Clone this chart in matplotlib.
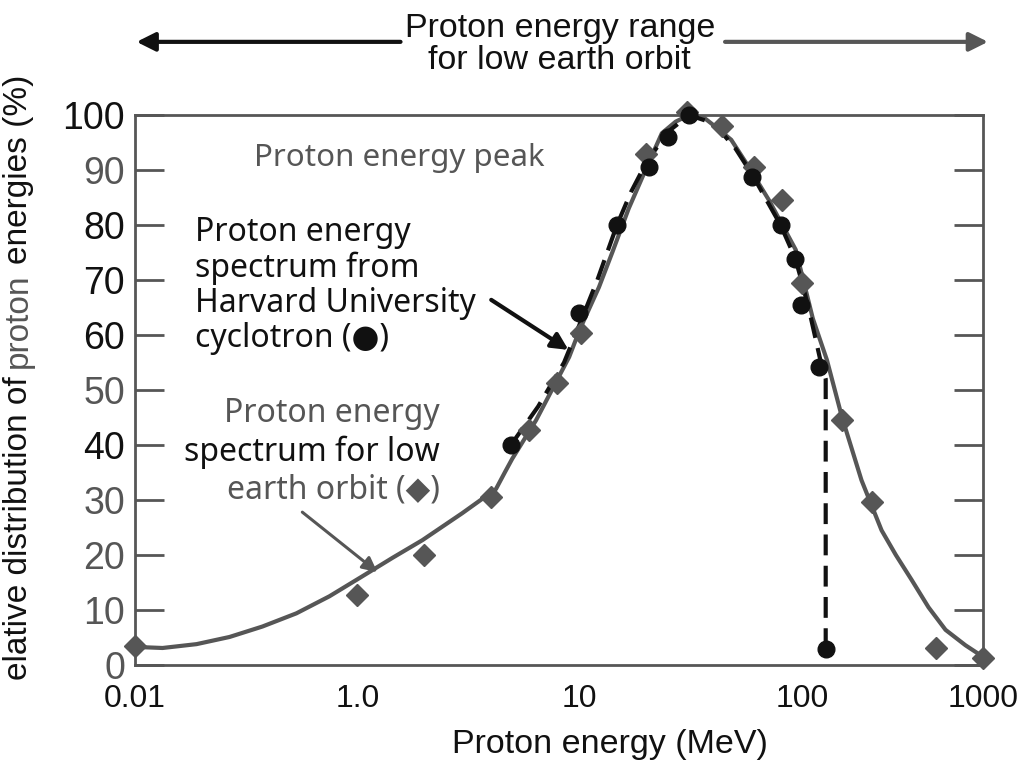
import numpy as np
import matplotlib.pyplot as plt
from matplotlib.ticker import FixedLocator, NullFormatter

# ---- data (energy in MeV, relative %) ----
# low earth orbit spectrum: solid curve + diamonds
leo_curve_e = [0.01, 0.0177, 0.0358, 0.0708, 0.14, 0.283, 0.561, 1.04, 1.44, 1.96, 2.96, 4.2,
               4.6, 4.97, 6.36, 8.96, 10, 12.2, 14, 16.6, 20, 23.4, 27, 31, 36,
               41, 48, 56, 71, 93.6, 114.6, 137, 166, 213, 275, 330, 403, 500, 621, 800, 1000]
leo_curve_y = [3.3, 3.1, 3.8, 5.1, 7.0, 9.4, 12.5, 16, 19.5, 22.7, 27.6, 32,
               35, 37.5, 44.5, 56, 61, 68.7, 75, 83, 90.5, 96.7, 98.8, 100, 99.6,
               97.8, 95.5, 91.3, 84.5, 75.5, 63, 55.5, 45.1, 33.6, 24.5, 20, 15.5, 10.5, 6.4, 3.6, 1.5]
leo_pts_e = [0.01, 1.0, 2.0, 4.0, 5.9, 7.9, 10.1, 19.8, 30.3, 43.5, 60.6, 81, 99.6, 166, 242, 547, 1000]
leo_pts_y = [3.5, 12.7, 20, 30.5, 42.7, 51.3, 60.4, 93, 100.5, 98, 90.5, 84.5, 69.5, 44.5, 29.6, 3.1, 1.3]

# Harvard cyclotron spectrum: dashed curve + circles
harvard_curve_e = [4.9, 6.5, 8.5, 10, 12, 14.7, 17, 20, 25, 31, 40, 50, 60, 80, 93, 100, 112, 125, 135, 135]
harvard_curve_y = [40, 47, 55, 62, 70, 80, 86, 91.5, 97, 100, 98.5, 94, 89, 80, 74, 69.5, 63, 56, 52, 3]
harvard_pts_e = [4.9, 9.9, 14.7, 20.5, 25, 31, 59.4, 80, 92.6, 98.6, 124, 135]
harvard_pts_y = [40, 64, 80, 90.5, 96, 100, 88.7, 80, 73.8, 65.5, 54.2, 3]

xticks = [0.01, 1.0, 10, 100, 1000]
xticklabels = ['0.01', '1.0', '10', '100', '1000']
yticks = [0, 10, 20, 30, 40, 50, 60, 70, 80, 90, 100]

GRAY = '#565656'
BLACK = '#111111'
sans = ['Liberation Sans', 'DejaVu Sans']
ann = ['Noto Sans', 'DejaVu Sans']


# the printed axis is not a clean log axis: first segment squeezes two
# decades into one, last decade is shortened
def fwd(e):
    l = np.log10(np.clip(np.asarray(e, float), 1e-6, None))
    return np.where(l < 0, l / 2, np.where(l <= 2, l, 2 + (l - 2) * 0.813))


def inv(u):
    u = np.asarray(u, float)
    return np.where(u < 0, 10 ** (2 * u), np.where(u <= 2, 10 ** u, 10 ** (2 + (u - 2) / 0.813)))


fig = plt.figure(figsize=(10.27, 7.61), dpi=100)
ax = fig.add_axes([0.1314, 0.1261, 0.8257, 0.7227])
ax.set_xscale('function', functions=(fwd, inv))
ax.set_xlim(0.01, 1000)
ax.set_ylim(0, 100)

ax.plot(leo_curve_e, leo_curve_y, color=GRAY, lw=3, solid_capstyle='round', zorder=3)
ax.plot(harvard_curve_e, harvard_curve_y, color=BLACK, lw=3, ls=(0, (5, 2.5)), zorder=4)
ax.plot(leo_pts_e, leo_pts_y, 'D', color=GRAY, ms=11, clip_on=False, zorder=5)
ax.plot(harvard_pts_e, harvard_pts_y, 'o', color=BLACK, ms=12, clip_on=False, zorder=6)

# axes frame and ticks
for s in ax.spines.values():
    s.set_color(GRAY)
    s.set_linewidth(2)
ax.xaxis.set_major_locator(FixedLocator(xticks))
ax.set_xticklabels(xticklabels, fontsize=23, family=sans, color=BLACK)
ax.xaxis.set_minor_locator(FixedLocator([1, 10, 100]))
ax.xaxis.set_minor_formatter(NullFormatter())
ax.tick_params(axis='x', which='major', direction='in', length=0, pad=14, top=False)
ax.tick_params(axis='x', which='minor', direction='in', length=21, width=2, color=GRAY,
               bottom=True, top=True)
ax.set_yticks(yticks)
ax.set_yticklabels([str(v) for v in yticks], fontsize=27, family=sans)
ax.tick_params(axis='y', direction='in', length=21, width=2, color=GRAY, left=True, right=True, pad=7)
ycols = [GRAY, GRAY, GRAY, GRAY, BLACK, GRAY, BLACK, BLACK, BLACK, GRAY, BLACK]
for lab, c in zip(ax.get_yticklabels(), ycols):
    lab.set_color(c)

ax.set_xlabel('Proton energy (MeV)', fontsize=24.5, family=sans, color=BLACK)
ax.xaxis.label.set_va('center')
ax.xaxis.set_label_coords(0.56, -0.145)

# y label in three pieces (scan shows mixed ink)
fig.canvas.draw()
rend = fig.canvas.get_renderer()
ypos = 0.106
for txt, c in [('elative distribution of', BLACK), ('proton', GRAY), ('energies (%)', BLACK)]:
    t = fig.text(0.026, ypos, txt, rotation=90, rotation_mode='anchor', ha='left', va='baseline',
                 fontsize=24, color=c, family=sans)
    bb = t.get_window_extent(rend)
    ypos = (bb.y1 + 9) / fig.bbox.height

# top range annotation
fig.text(0.545, 0.942, 'Proton energy range\nfor low earth orbit', ha='center', va='center',
         fontsize=24.5, family=sans, color=BLACK, linespacing=1.05)
ax.annotate('', xy=(0.133, 0.945), xytext=(0.39, 0.945), xycoords='figure fraction',
            arrowprops=dict(arrowstyle='-|>', color=BLACK, lw=3, mutation_scale=28,
                            shrinkA=0, shrinkB=0), annotation_clip=False)
ax.annotate('', xy=(0.962, 0.945), xytext=(0.706, 0.945), xycoords='figure fraction',
            arrowprops=dict(arrowstyle='-|>', color=GRAY, lw=3, mutation_scale=28,
                            shrinkA=0, shrinkB=0), annotation_clip=False)

# peak label
ax.text(0.4835, 0.922, 'Proton energy peak', transform=ax.transAxes, ha='right', va='center',
        fontsize=22.5, family=ann, color=GRAY)
ax.annotate('', xy=(27.9, 100.4), xytext=(7.2, 91.8),
            arrowprops=dict(arrowstyle='-|>', color=GRAY, lw=2.5, mutation_scale=25,
                            shrinkA=0, shrinkB=0))

# Harvard label
for txt, yy in [('Proton energy', 0.787), ('spectrum from', 0.722),
                ('Harvard University', 0.658), ('cyclotron (\u25cf)', 0.5945)]:
    ax.text(0.0708, yy, txt, transform=ax.transAxes, ha='left', va='center',
            fontsize=23, family=ann, color=BLACK)
ax.annotate('', xy=(8.9, 57.3), xytext=(4.0, 66.4),
            arrowprops=dict(arrowstyle='-|>', color=BLACK, lw=3, mutation_scale=25,
                            shrinkA=0, shrinkB=0))

# low earth orbit label
for txt, yy, c in [('Proton energy', 0.458, GRAY), ('spectrum for low', 0.387, BLACK),
                   ('earth orbit (\u25c6)', 0.318, GRAY)]:
    ax.text(0.3597, yy, txt, transform=ax.transAxes, ha='right', va='center',
            fontsize=23, family=ann, color=c)
ax.annotate('', xy=(1.23, 16.9), xytext=(0.32, 27.8),
            arrowprops=dict(arrowstyle='-|>', color=GRAY, lw=2.2, mutation_scale=22,
                            shrinkA=0, shrinkB=0))

fig.savefig('out.png', dpi=100)
